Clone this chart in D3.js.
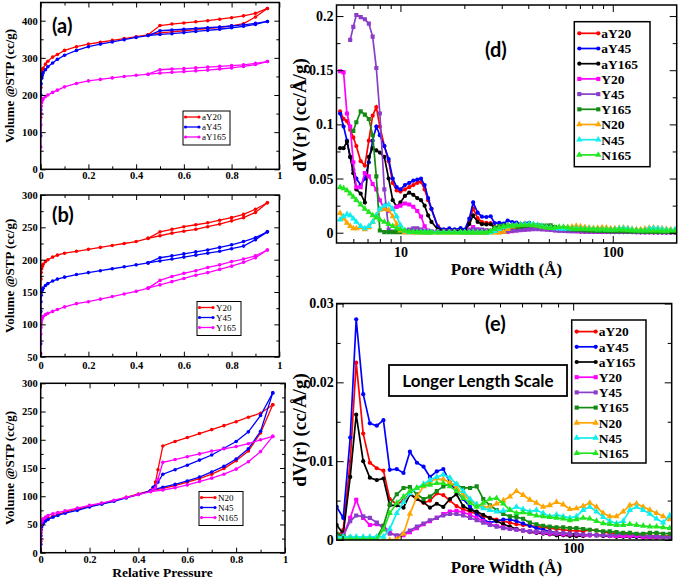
<!DOCTYPE html>
<html><head><meta charset="utf-8">
<script src="https://cdn.jsdelivr.net/npm/d3@7"></script>
<style>body{margin:0;background:#fff}svg{display:block}</style>
</head><body>
<svg id="c" width="685" height="581"></svg>
<script>
// ---------- Isotherm data (a)-(c) ----------
const pressureAds = [0,0.0005,0.001,0.002,0.004,0.007,0.01,0.02,0.03,0.05,0.07,0.1,0.15,0.2,0.25,0.3,0.35,0.4,0.45,0.5,0.55,0.6,0.65,0.7,0.75,0.8,0.85,0.9,0.95];
const pressureDes = [0.95,0.9,0.85,0.8,0.75,0.7,0.65,0.6,0.55,0.5,0.45];
const pressureDesN = [0.95,0.9,0.85,0.8,0.75,0.7,0.65,0.6,0.55,0.5,0.48,0.47,0.46];

const aY20Ads  = [140,190,220,245,258,266,272,283,291,302,309,320,330,337,342,347,352,357,362,367,370,373,376,379,382,386,392,410,433];
const aY20Des  = [433,420,413,408,404,400,397,394,391,387,362];
const aY45Ads  = [90,160,200,230,245,254,260,268,276,286,296,307,320,330,337,343,349,355,360,363,365,368,371,374,377,381,385,390,398];
const aY45Des  = [398,393,389,386,383,381,379,377,375,373,360];
const aY165Ads = [60,120,150,170,180,186,190,196,200,207,213,222,231,238,242,246,250,253,256,259,261,263,265,267,270,273,277,282,290];
const aY165Des = [290,285,281,279,277,275,273,271,270,268,256];

const Y20Ads  = [100,150,170,180,186,190,193,197,200,204,207,210,213,216,219,222,225,228,233,237,241,244,247,251,255,260,265,273,288];
const Y20Des  = [288,278,270,265,261,257,254,251,247,243,233];
const Y45Ads  = [70,120,135,145,150,153,156,160,163,167,170,173,177,180,183,186,189,192,195,198,201,204,207,210,213,217,221,231,243];
const Y45Des  = [243,234,228,223,219,215,212,209,206,203,195];
const Y165Ads = [55,85,95,103,107,110,112,115,117,120,123,127,132,135,139,143,147,151,156,161,166,171,176,180,185,190,196,203,215];
const Y165Des = [215,206,201,197,192,188,183,179,174,168,156];

const N20Ads  = [0,20,35,45,50,53,55,58,61,65,68,72,77,82,87,92,98,104,110,114,119,125,131,139,149,163,180,212,262];
const N20Des  = [262,247,240,232,225,218,211,204,197,189,147,125,114];
const N45Ads  = [0,15,30,40,46,50,52,56,59,63,66,70,75,81,86,91,97,103,110,116,121,127,134,143,153,166,184,215,283];
const N45Des  = [283,243,214,197,185,173,164,155,147,139,125,118,116];
const N165Ads = [0,25,40,50,55,58,60,63,66,69,71,74,79,84,88,93,98,103,108,111,115,120,126,132,139,148,161,179,206];
const N165Des = [206,200,193,188,184,180,175,170,165,160,130,115,111];

// ---------- Pore size distribution data (d),(e) ----------
const poreWidth = [5.2,5.4,5.6,5.8,6.0,6.2,6.5,6.8,7.1,7.4,7.7,8.0,8.4,8.8,9.2,9.6,10.0,10.5,11.0,11.5,12.0,12.5,13.0,13.5,14.0,15.0,16.0,17.0,18.0,
  19.2,20.1,21.1,22.0,23.1,24.2,25.4,26.6,27.8,29.2,30.6,32.0,33.6,35.2,36.8,38.6,40.4,42.3,44.3,46.4,48.7,51.0,53.4,55.9,58.6,61.4,64.3,67.3,70.5,73.9,77.4,81.1,84.9,89.0,93.3,97.7,102.3,107.2,112.3,117.7,123.3,129.1,135.3,141.8,148.5,155.6,163.0,170.8,178.9,187.4,196.3];

const psdAY20 = [0.112,0.105,0.103,0.095,0.088,0.08,0.066,0.062,0.085,0.108,0.116,0.098,0.08,0.066,0.046,0.039,0.038,0.04,0.042,0.044,0.046,0.047,0.04,0.03,0.022,0.006,0.002,0.002,0.002,
  0.0004,0.0013,0.01,0.0225,0.0135,0.0098,0.0091,0.0088,0.0052,0.0045,0.005,0.0059,0.0052,0.0047,0.005,0.0059,0.0057,0.005,0.0043,0.0039,0.0036,0.0033,0.003,0.0028,0.0026,0.0024,0.0022,0.002,0.0019,0.0018,0.0017,0.0016,0.0015,0.0014,0.0013,0.0012,0.0012,0.0011,0.0013,0.0012,0.001,0.0009,0.0008,0.0007,0.0007,0.0006,0.0006,0.0006,0.0005,0.0005,0.0005];
const psdAY45 = [0.11,0.098,0.085,0.07,0.058,0.05,0.044,0.05,0.065,0.085,0.098,0.09,0.08,0.068,0.05,0.042,0.04,0.044,0.046,0.048,0.049,0.05,0.044,0.032,0.022,0.005,0.003,0.004,0.003,
  0.0042,0.0028,0.013,0.028,0.0185,0.0148,0.0145,0.0152,0.0089,0.009,0.0085,0.0112,0.0098,0.0093,0.008,0.0087,0.009,0.0073,0.0062,0.0052,0.0042,0.0033,0.0026,0.0022,0.0024,0.0026,0.0026,0.0024,0.0021,0.0018,0.0015,0.0013,0.0011,0.0009,0.0008,0.0008,0.0007,0.0007,0.0006,0.0006,0.0006,0.0005,0.0005,0.0005,0.0005,0.0004,0.0004,0.0004,0.0004,0.0004,0.0004];
const psdAY165 = [0.078,0.078,0.084,0.07,0.055,0.04,0.036,0.028,0.07,0.078,0.076,0.074,0.07,0.05,0.03,0.024,0.028,0.034,0.037,0.035,0.032,0.03,0.025,0.016,0.01,0.003,0.002,0.002,0.002,
  0.0019,0.0008,0.008,0.0159,0.01,0.0079,0.0076,0.0078,0.0044,0.0044,0.0041,0.0058,0.0052,0.0048,0.0041,0.0046,0.0042,0.0052,0.0058,0.0043,0.0038,0.0036,0.0032,0.0028,0.0024,0.002,0.0017,0.0014,0.0012,0.001,0.0009,0.0008,0.0007,0.0006,0.0006,0.0005,0.0005,0.0005,0.0006,0.0006,0.0005,0.0005,0.0004,0.0004,0.0004,0.0004,0.0003,0.0003,0.0003,0.0003,0.0003];
const psdY20 = [0.149,0.148,0.11,0.098,0.065,0.042,0.042,0.055,0.052,0.045,0.04,0.03,0.022,0.02,0.022,0.024,0.025,0.027,0.026,0.024,0.02,0.015,0.006,0.002,0.001,0.001,0.001,0.001,0.001,
  0.0004,0.0006,0.0028,0.0051,0.0028,0.0019,0.002,0.0018,0.001,0.0005,0.0006,0.001,0.0015,0.002,0.0024,0.0028,0.0033,0.0036,0.0037,0.0035,0.0032,0.0028,0.0024,0.002,0.0018,0.0016,0.0014,0.0013,0.0012,0.0011,0.001,0.0009,0.0008,0.0008,0.0007,0.0007,0.0007,0.0006,0.0006,0.0006,0.0006,0.0005,0.0005,0.0005,0.0005,0.0005,0.0004,0.0004,0.0004,0.0004,0.0004];
const psdY45 = [null,null,null,0.178,0.19,0.201,0.199,0.197,0.193,0.181,0.152,0.11,0.04,0.003,0.001,0.001,0.001,0.002,0.003,0.004,0.004,0.003,0.002,0.001,0.001,0.001,0.001,0.001,0.001,
  0.0006,0.0005,0.0024,0.0031,0.003,0.0028,0.0022,0.0014,0.0008,0.0006,0.0008,0.0012,0.0017,0.0021,0.0025,0.0028,0.0031,0.0033,0.0033,0.0031,0.0028,0.0025,0.0022,0.0019,0.0017,0.0015,0.0014,0.0013,0.0012,0.0011,0.0011,0.001,0.001,0.0009,0.0009,0.0008,0.0008,0.0007,0.0007,0.0006,0.0006,0.0006,0.0007,0.0008,0.0008,0.0007,0.0006,0.0005,0.0005,0.0004,0.0004];
const psdY165 = [null,null,null,null,0.094,0.102,0.112,0.109,0.105,0.09,0.052,0.002,0.0005,0.0005,0.0005,0.0005,0.0005,0.0005,0.0005,0.0005,0.0005,0.0005,0.0005,0.0005,0.0005,0.0005,0.0006,0.0007,0.0008,
  0.0008,0.0005,0.0003,0.0002,0.0002,0.0002,0.0003,0.0018,0.0045,0.0058,0.0066,0.0067,0.0058,0.0052,0.0055,0.0062,0.0068,0.0071,0.007,0.0066,0.0066,0.0068,0.0052,0.0044,0.0038,0.0033,0.003,0.0029,0.0027,0.0022,0.002,0.0018,0.0017,0.0016,0.0016,0.0015,0.0015,0.0014,0.0013,0.0012,0.0011,0.0011,0.001,0.0009,0.0009,0.0008,0.0008,0.0009,0.0009,0.0008,0.0008];
const psdN20 = [0.018,0.013,0.009,0.006,0.004,0.004,0.005,0.003,0.005,0.01,0.016,0.021,0.022,0.021,0.015,0.008,0.002,0.0003,0.0002,0.0002,0.0002,0.0002,0.0002,0.0002,0.0002,0.0002,0.0001,0.0001,0.0001,
  0,0,0,0,0,0,0,0,0,0.0001,0.0008,0.0033,0.0055,0.0068,0.0074,0.0078,0.0077,0.0073,0.0066,0.0058,0.005,0.0045,0.0042,0.0042,0.0046,0.005,0.0055,0.0062,0.0057,0.0051,0.0047,0.0042,0.0044,0.0048,0.0045,0.0039,0.004,0.0043,0.0047,0.0042,0.0034,0.003,0.003,0.0036,0.0044,0.0046,0.0042,0.0038,0.0034,0.003,0.0026];
const psdN45 = [0.012,0.015,0.017,0.016,0.013,0.01,0.006,0.004,0.006,0.01,0.016,0.022,0.025,0.026,0.022,0.015,0.007,0.002,0.0005,0.0005,0.0005,0.0005,0.0005,0.0005,0.0005,0.0005,0.0005,0.0005,0.0005,
  0.0004,0.0004,0.0004,0.0004,0.0004,0.0004,0.0004,0.0004,0.0014,0.0034,0.0048,0.0059,0.0066,0.0071,0.0076,0.008,0.0083,0.0079,0.0071,0.0062,0.0052,0.0045,0.004,0.0038,0.0036,0.0037,0.0038,0.0042,0.0039,0.0036,0.0038,0.0034,0.003,0.0032,0.003,0.0028,0.003,0.0038,0.0042,0.0036,0.0029,0.0024,0.0021,0.0024,0.0038,0.0042,0.0038,0.0033,0.0027,0.0022,0.0031];
const psdN165 = [0.042,0.041,0.039,0.036,0.033,0.03,0.026,0.022,0.019,0.016,0.014,0.012,0.01,0.008,0.006,0.004,0.003,0.002,0.001,0.0005,0.0003,0.0002,0.0001,0.0001,0.0001,0.0001,0.0001,0.0001,0.0001,
  0.0001,0.0001,0.0001,0.0001,0.0001,0.0001,0.0001,0.0013,0.0034,0.0047,0.0055,0.0062,0.0066,0.0069,0.007,0.0072,0.0072,0.0068,0.0062,0.0053,0.0047,0.0042,0.0047,0.0052,0.0053,0.0046,0.0038,0.0034,0.0035,0.0033,0.0031,0.003,0.0029,0.0028,0.0027,0.0025,0.0026,0.0028,0.0027,0.0024,0.0021,0.002,0.0019,0.0019,0.002,0.0019,0.0018,0.0017,0.0017,0.0016,0.0015];

const psdNames = ["aY20","aY45","aY165","Y20","Y45","Y165","N20","N45","N165"];
const psdColors = ["#ff0000","#0000ff","#000000","#ff00ff","#8a3dc8","#138a13","#ffa500","#10eeee","#22e622"];
const psdSymbols = ["circle","circle","circle","square","square","square","triangle","triangle","triangle"];
const psdValues = [psdAY20,psdAY45,psdAY165,psdY20,psdY45,psdY165,psdN20,psdN45,psdN165];

// ---------- tick values ----------
const pressureTicks = [0,0.2,0.4,0.6,0.8,1];
const pressureMinor = [0.1,0.3,0.5,0.7,0.9];
const volTicksA = [0,100,200,300,400];
const volMinorA = [50,150,250,350];
const volTicksB = [50,100,150,200,250,300];
const volMinorB = [75,125,175,225,275];
const volTicksC = [0,50,100,150,200,250,300];
const volMinorC = [25,75,125,175,225,275];
const widthTicksD = [10,100];
const widthMinorD = [6,7,8,9,20,30,40,50,60,70,80,90];
const dvTicksD = [0,0.05,0.1,0.15,0.2];
const dvMinorD = [0.025,0.075,0.125,0.175];
const widthTicksE = [100];
const widthMinorE = [20,30,40,50,60,70,80,90];
const dvTicksE = [0,0.01,0.02,0.03];
const dvMinorE = [0.005,0.015,0.025];

// ---------- drawing ----------
const svg = d3.select("#c");
const SERIF = '"Liberation Serif","Times New Roman",serif';
const SANS = 'Lato,"Open Sans","Liberation Sans",sans-serif';
const numFmt = d => String(+(+d).toFixed(4));

function styleAxis(sel, fs) {
  sel.select(".domain").remove();
  sel.selectAll("line").attr("stroke","#000").attr("stroke-width",1);
  sel.selectAll("text").attr("fill","#000").style("font-family",SERIF)
     .style("font-weight","bold").style("font-size",fs+"px");
}

function drawAxes(g, x, y, o) {
  const b = x.range(), l = y.range();
  const x0=b[0], x1=b[1], yb=l[0], yt=l[1];
  const add = (gen, tx, ty) => g.append("g").attr("transform",`translate(${tx},${ty})`).call(gen).call(s=>styleAxis(s,o.fs));
  add(d3.axisBottom(x).tickValues(o.xMajor).tickSize(-o.maj).tickPadding(o.xPad).tickFormat(o.xFmt), 0, yb);
  add(d3.axisBottom(x).tickValues(o.xMinor).tickSize(-o.min).tickFormat(""), 0, yb);
  add(d3.axisTop(x).tickValues(o.xMajor).tickSize(-o.maj).tickFormat(""), 0, yt);
  add(d3.axisTop(x).tickValues(o.xMinor).tickSize(-o.min).tickFormat(""), 0, yt);
  add(d3.axisLeft(y).tickValues(o.yMajor).tickSize(-o.maj).tickPadding(o.yPad).tickFormat(numFmt), x0, 0);
  add(d3.axisLeft(y).tickValues(o.yMinor).tickSize(-o.min).tickFormat(""), x0, 0);
  add(d3.axisRight(y).tickValues(o.yMajor).tickSize(-o.maj).tickFormat(""), x1, 0);
  add(d3.axisRight(y).tickValues(o.yMinor).tickSize(-o.min).tickFormat(""), x1, 0);
  g.append("rect").attr("x",x0).attr("y",yt).attr("width",x1-x0).attr("height",yb-yt)
    .attr("fill","none").attr("stroke","#000").attr("stroke-width",1.5);
}

let clipId = 0;
function clipFor(x, y) {
  const id = "clip"+(clipId++);
  const [x0,x1]=x.range(), [yb,yt]=y.range();
  svg.append("clipPath").attr("id",id).append("rect").attr("x",x0).attr("y",yt).attr("width",x1-x0).attr("height",yb-yt);
  return `url(#${id})`;
}

function symbolPath(type, size) {
  const t = type==="circle"?d3.symbolCircle:type==="square"?d3.symbolSquare:d3.symbolTriangle;
  return d3.symbol().type(t).size(size)();
}

// Isotherm panel
function isoPanel(cfg) {
  const x = d3.scaleLinear().domain([0,1]).range([cfg.x0,cfg.x1]);
  const y = d3.scaleLinear().domain(cfg.yDom).range([cfg.yb,cfg.yt]);
  const g = svg.append("g");
  const plot = g.append("g").attr("clip-path", clipFor(x,y));
  const line = d3.line().x(d=>x(d[0])).y(d=>y(d[1]));
  cfg.series.forEach(s => {
    const ads = pressureAds.map((p,i)=>[p,s.ads[i]]);
    const des = cfg.pDes.map((p,i)=>[p,s.des[i]]);
    [ads,des].forEach(dat => {
      plot.append("path").datum(dat).attr("d",line).attr("fill","none").attr("stroke",s.color).attr("stroke-width",1.3);
      plot.selectAll(null).data(dat).join("circle").attr("cx",d=>x(d[0])).attr("cy",d=>y(d[1])).attr("r",1.8).attr("fill",s.color);
    });
  });
  drawAxes(g, x, y, {xMajor:pressureTicks, xMinor:pressureMinor, yMajor:cfg.yMajor, yMinor:cfg.yMinor,
    maj:5, min:3, fs:10.5, xPad:cfg.xPad, yPad:3, xFmt:numFmt});
  g.append("text").attr("transform",`translate(14,${(cfg.yb+cfg.yt)/2}) rotate(-90)`).attr("text-anchor","middle")
    .style("font-family",SERIF).style("font-weight","bold").style("font-size","13px").text("Volume @STP (cc/g)");
  if (cfg.label) g.append("text").attr("x",52).attr("y",cfg.labelY).style("font-family",SANS).style("font-weight","bold")
    .style("font-size","20px").text(cfg.label);
  const L = cfg.legend;
  g.append("rect").attr("x",L.x).attr("y",L.y).attr("width",L.w).attr("height",L.h).attr("fill","#fff").attr("stroke","#000").attr("stroke-width",1);
  cfg.series.forEach((s,i) => {
    const ry = L.y + 6 + i*10;
    g.append("line").attr("x1",L.x+2.5).attr("x2",L.x+16).attr("y1",ry).attr("y2",ry).attr("stroke",s.color).attr("stroke-width",1.3);
    [L.x+2.5,L.x+16].forEach(cx=>g.append("circle").attr("cx",cx).attr("cy",ry).attr("r",1.6).attr("fill",s.color));
    g.append("text").attr("x",L.x+19).attr("y",ry+3.2).style("font-family",SERIF).style("font-size","9px").text(s.name);
  });
  return g;
}

isoPanel({x0:40.7,x1:279.3,yb:169.3,yt:2.5,yDom:[0,449],yMajor:volTicksA,yMinor:volMinorA,xPad:2.5,
  pDes:pressureDes,label:"(a)",labelY:33,legend:{x:183,y:111,w:47,h:34},
  series:[{name:"aY20",color:"#ff0000",ads:aY20Ads,des:aY20Des},{name:"aY45",color:"#0000ff",ads:aY45Ads,des:aY45Des},{name:"aY165",color:"#ff00ff",ads:aY165Ads,des:aY165Des}]});
isoPanel({x0:40.7,x1:279.3,yb:356.7,yt:195,yDom:[50,300],yMajor:volTicksB,yMinor:volMinorB,xPad:5,
  pDes:pressureDes,label:"(b)",labelY:221.5,legend:{x:197,y:301.5,w:44,h:34},
  series:[{name:"Y20",color:"#ff0000",ads:Y20Ads,des:Y20Des},{name:"Y45",color:"#0000ff",ads:Y45Ads,des:Y45Des},{name:"Y165",color:"#ff00ff",ads:Y165Ads,des:Y165Des}]});
isoPanel({x0:40.7,x1:285,yb:552.7,yt:383.3,yDom:[0,300],yMajor:volTicksC,yMinor:volMinorC,xPad:2.5,
  pDes:pressureDesN,label:null,legend:{x:199,y:491.5,w:44,h:34},
  series:[{name:"N20",color:"#ff0000",ads:N20Ads,des:N20Des},{name:"N45",color:"#0000ff",ads:N45Ads,des:N45Des},{name:"N165",color:"#ff00ff",ads:N165Ads,des:N165Des}]});
svg.append("text").attr("x",162.5).attr("y",577).attr("text-anchor","middle").style("font-family",SERIF)
  .style("font-weight","bold").style("font-size","13.5px").text("Relative Pressure");

// PSD panels
function psdPanel(cfg) {
  const x = d3.scaleLog().domain(cfg.xDom).range([cfg.x0,cfg.x1]);
  const y = d3.scaleLinear().domain(cfg.yDom).range([cfg.yb,cfg.yt]);
  const g = svg.append("g");
  const plot = g.append("g").attr("clip-path", clipFor(x,y));
  psdValues.forEach((vals,k) => {
    const dat = poreWidth.map((w,i)=>[w,vals[i]]);
    const line = d3.line().defined(d=>d[1]!=null).x(d=>x(d[0])).y(d=>y(d[1]));
    plot.append("path").datum(dat).attr("d",line).attr("fill","none").attr("stroke",psdColors[k]).attr("stroke-width",1.7);
    const sym = symbolPath(psdSymbols[k], psdSymbols[k]==="circle"?14:psdSymbols[k]==="square"?17:18);
    plot.selectAll(null).data(dat.filter(d=>d[1]!=null)).join("path").attr("d",sym)
      .attr("transform",d=>`translate(${x(d[0])},${y(d[1])})`).attr("fill",psdColors[k]);
  });
  drawAxes(g, x, y, {xMajor:cfg.xMajor, xMinor:cfg.xMinor, yMajor:cfg.yMajor, yMinor:cfg.yMinor,
    maj:7, min:4, fs:14, xPad:cfg.xPad, yPad:3, xFmt:d3.format("d")});
  g.append("text").attr("transform",`translate(306,${cfg.yLabelY}) rotate(-90)`).attr("text-anchor","middle")
    .style("font-family",SERIF).style("font-weight","bold").style("font-size","19px").text("dV(r) (cc/Å/g)");
  g.append("text").attr("x",506.5).attr("y",cfg.xLabelY).attr("text-anchor","middle")
    .style("font-family",SERIF).style("font-weight","bold").style("font-size","17px").text("Pore Width (Å)");
  g.append("text").attr("x",485).attr("y",cfg.labelY).style("font-family",SANS).style("font-weight","bold")
    .style("font-size","20px").text(cfg.label);
  const L = cfg.legend;
  g.append("rect").attr("x",L.x).attr("y",L.y).attr("width",L.w).attr("height",L.h).attr("fill","#fff").attr("stroke","#000").attr("stroke-width",1.5);
  psdNames.forEach((n,k) => {
    const ry = L.y + 11.6 + k*15.2;
    g.append("line").attr("x1",L.x+5).attr("x2",L.x+24).attr("y1",ry).attr("y2",ry).attr("stroke",psdColors[k]).attr("stroke-width",1.7);
    const sym = symbolPath(psdSymbols[k], psdSymbols[k]==="circle"?14:psdSymbols[k]==="square"?17:18);
    [L.x+5,L.x+24].forEach(cx=>g.append("path").attr("d",sym).attr("transform",`translate(${cx},${ry})`).attr("fill",psdColors[k]));
    g.append("text").attr("x",L.x+27).attr("y",ry+4.8).style("font-family",SERIF).style("font-weight","bold").style("font-size","13.5px").text(n);
  });
  return g;
}

psdPanel({x0:336.5,x1:676.7,yb:243,yt:5,xDom:[5,200],yDom:[-0.0095,0.2102],xMajor:widthTicksD,xMinor:widthMinorD,
  yMajor:dvTicksD,yMinor:dvMinorD,xPad:4,yLabelY:115,xLabelY:275,label:"(d)",labelY:57,legend:{x:574.3,y:21.7,w:75.7,h:145}});
const gE = psdPanel({x0:336.7,x1:671.7,yb:540,yt:303.5,xDom:[19.2,198.9],yDom:[0,0.03],xMajor:widthTicksE,xMinor:widthMinorE,
  yMajor:dvTicksE,yMinor:dvMinorE,xPad:3.5,yLabelY:430,xLabelY:573,label:"(e)",labelY:330.5,legend:{x:571.7,y:320,w:74.3,h:143}});
gE.append("rect").attr("x",389).attr("y",365).attr("width",178).attr("height",31).attr("fill","#fff").attr("stroke","#000").attr("stroke-width",1.8);
gE.append("text").attr("x",478).attr("y",386.5).attr("text-anchor","middle").style("font-family",SANS).style("font-weight","bold")
  .style("font-size","17px").text("Longer Length Scale");
</script>
</body></html>
